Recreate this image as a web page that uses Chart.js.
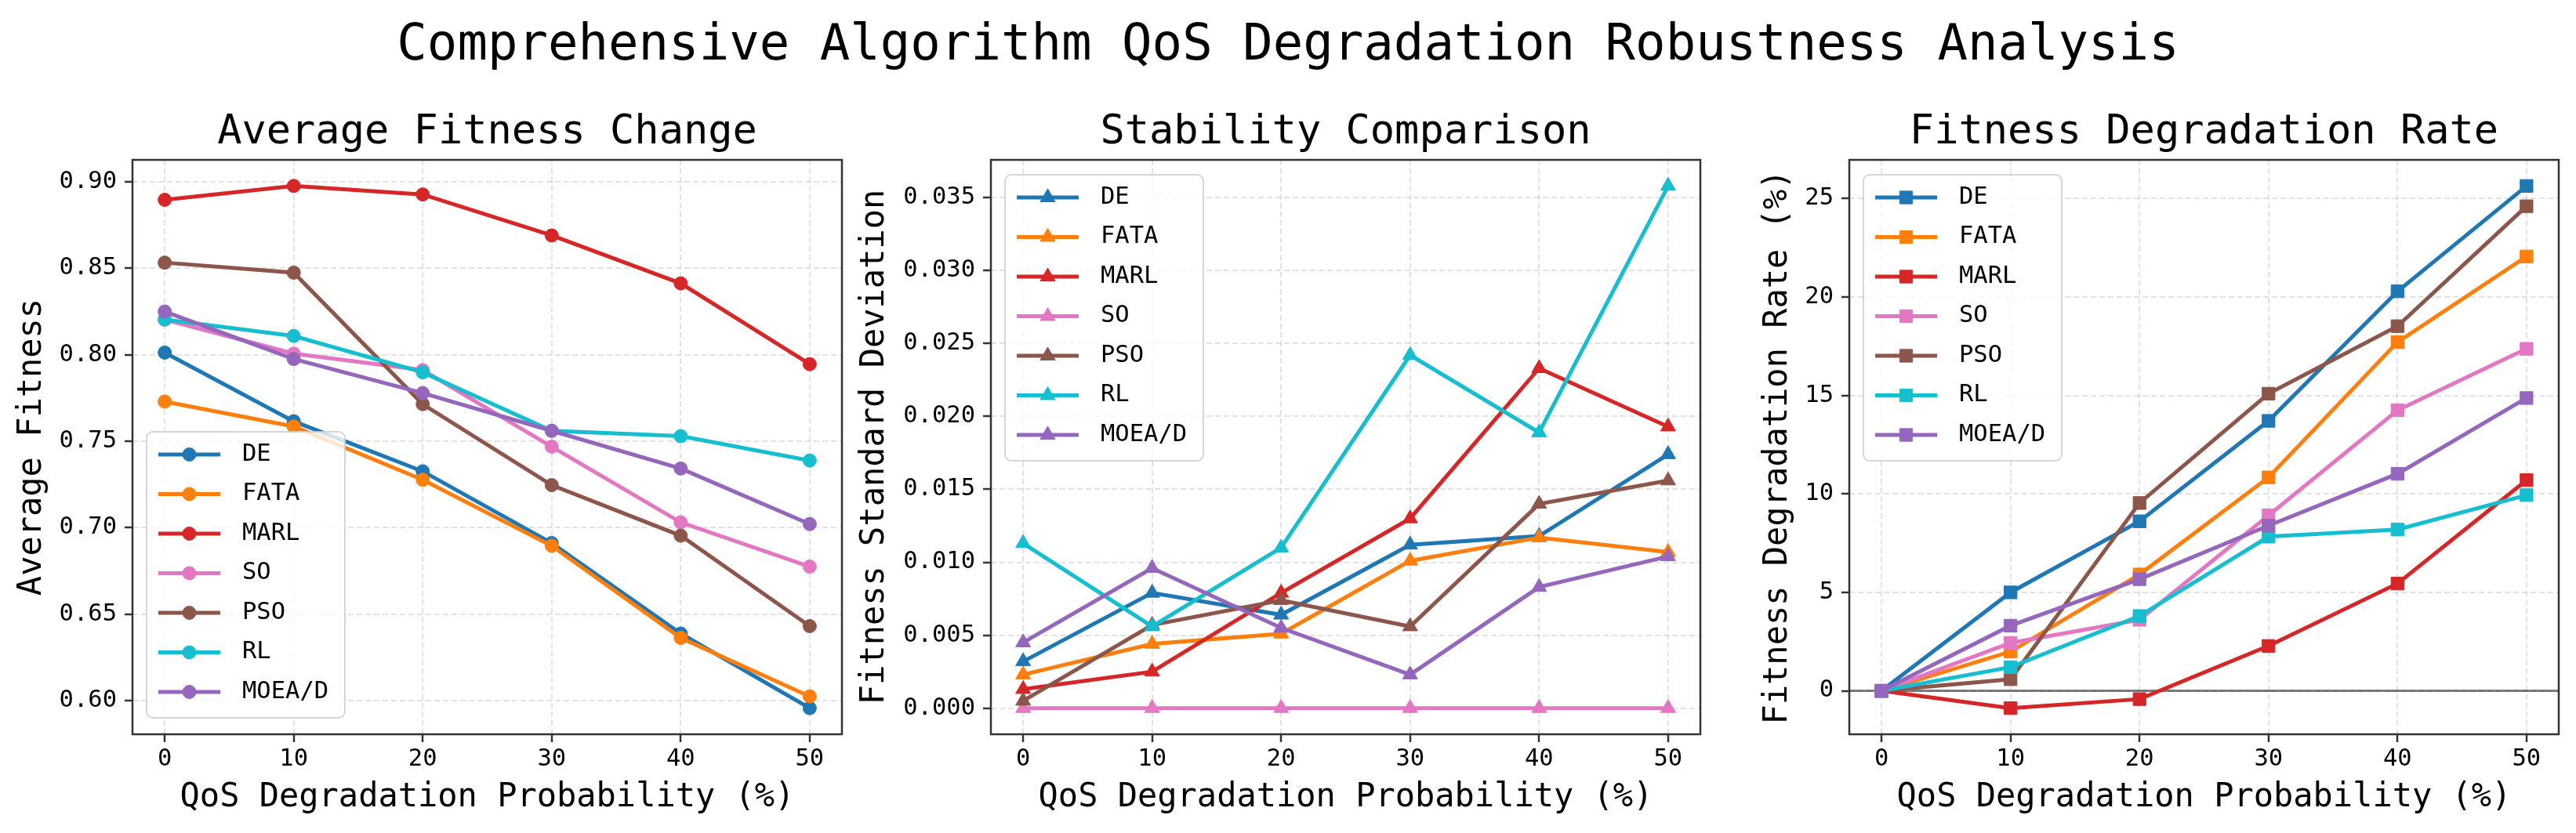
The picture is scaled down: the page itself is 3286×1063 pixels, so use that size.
<!DOCTYPE html>
<html>
<head>
<meta charset="utf-8">
<title>Comprehensive Algorithm QoS Degradation Robustness Analysis</title>
<script src="https://cdn.jsdelivr.net/npm/chart.js@4.4.1/dist/chart.umd.min.js"></script>
<style>
  html, body { margin: 0; padding: 0; background: #ffffff; width: 3286px; height: 1063px; overflow: hidden; }
  #wrap { position: relative; width: 3286px; height: 1063px; }
  canvas { position: absolute; left: 0; top: 0; }
  #suptitle {
    position: absolute; left: 0; top: 22px; width: 3286px; text-align: center;
    font-family: 'DejaVu Sans Mono', monospace; font-size: 64px; line-height: 64px;
    color: #000; white-space: pre;
  }
</style>
</head>
<body>
<div id="wrap">
  <div id="suptitle">Comprehensive Algorithm QoS Degradation Robustness Analysis</div>
  <canvas id="c1" width="3286" height="1063" style="width:3286px;height:1063px"></canvas>
  <canvas id="c2" width="3286" height="1063" style="width:3286px;height:1063px"></canvas>
  <canvas id="c3" width="3286" height="1063" style="width:3286px;height:1063px"></canvas>
</div>
<script>
// ---------------- DATA ----------------
const X_VALUES = [0, 10, 20, 30, 40, 50];
const X_TICK_LABELS = ['0', '10', '20', '30', '40', '50'];
const ALGORITHMS = ['DE', 'FATA', 'MARL', 'SO', 'PSO', 'RL', 'MOEA/D'];
const COLORS = ['#1f77b4', '#ff7f0e', '#d62728', '#e377c2', '#8c564b', '#17becf', '#9467bd'];

// Average fitness (rows follow ALGORITHMS)
const AVG_FITNESS = [
  [0.8012, 0.7615, 0.7326, 0.6911, 0.6388, 0.5957],
  [0.7729, 0.7585, 0.7277, 0.6895, 0.6363, 0.6025],
  [0.8895, 0.8975, 0.8926, 0.8689, 0.8412, 0.7945],
  [0.8203, 0.8006, 0.7911, 0.7468, 0.7031, 0.6775],
  [0.8532, 0.8474, 0.7714, 0.7246, 0.6954, 0.6431],
  [0.8203, 0.8108, 0.7898, 0.7560, 0.7529, 0.7388],
  [0.8249, 0.7975, 0.7778, 0.7560, 0.7342, 0.7021]
];
// Fitness standard deviation
const STD_DEV = [
  [0.0032, 0.0079, 0.0064, 0.0112, 0.0118, 0.0174],
  [0.0023, 0.0044, 0.0051, 0.0101, 0.0117, 0.0107],
  [0.0013, 0.0025, 0.0079, 0.0130, 0.0233, 0.0193],
  [0.0000, 0.0000, 0.0000, 0.0000, 0.0000, 0.0000],
  [0.0005, 0.0057, 0.0074, 0.0056, 0.0140, 0.0156],
  [0.0113, 0.0056, 0.0110, 0.0242, 0.0189, 0.0358],
  [0.0045, 0.0096, 0.0055, 0.0023, 0.0083, 0.0104]
];
// Fitness degradation rate (%)
const DEG_RATE = [
  [0, 5.00, 8.61, 13.71, 20.29, 25.64],
  [0, 1.99, 5.91, 10.84, 17.71, 22.06],
  [0, -0.88, -0.42, 2.28, 5.45, 10.70],
  [0, 2.43, 3.61, 8.91, 14.25, 17.37],
  [0, 0.59, 9.54, 15.09, 18.52, 24.61],
  [0, 1.20, 3.80, 7.83, 8.19, 9.94],
  [0, 3.31, 5.67, 8.39, 11.02, 14.87]
];

const Y1_TICKS = [0.60, 0.65, 0.70, 0.75, 0.80, 0.85, 0.90];
const Y1_TICK_LABELS = ['0.60', '0.65', '0.70', '0.75', '0.80', '0.85', '0.90'];
const Y2_TICKS = [0, 0.005, 0.010, 0.015, 0.020, 0.025, 0.030, 0.035];
const Y2_TICK_LABELS = ['0.000', '0.005', '0.010', '0.015', '0.020', '0.025', '0.030', '0.035'];
const Y3_TICKS = [0, 5, 10, 15, 20, 25];
const Y3_TICK_LABELS = ['0', '5', '10', '15', '20', '25'];
const ZERO_LINE_VALUE = 0;

const X_TITLE = 'QoS Degradation Probability (%)';
const TITLES = ['Average Fitness Change', 'Stability Comparison', 'Fitness Degradation Rate'];
const Y_TITLES = ['Average Fitness', 'Fitness Standard Deviation', 'Fitness Degradation Rate (%)'];

// ---------------- STYLE / LAYOUT ----------------
const FAMILY = "'DejaVu Sans Mono', monospace";
const W = 3286, H = 1063;
const PLOT_TOP = 204, PLOT_BOTTOM = 937;
const X_AXIS_H = H - PLOT_BOTTOM - 16;
const SPINE = '#333333';
const GRID = 'rgba(176,176,176,0.35)';
const TICK_FONT = { family: FAMILY, size: 30.5, lineHeight: 1.2 };
const LABEL_FONT = { family: FAMILY, size: 42, lineHeight: 1 };

Chart.defaults.color = '#000';
Chart.defaults.font.family = FAMILY;

const framePlugin = {
  id: 'frame',
  beforeDatasetsDraw(chart, args, opts) {
    if (opts.zeroLine === undefined) return;
    const a = chart.chartArea, ctx = chart.ctx;
    const y = chart.scales.y.getPixelForValue(opts.zeroLine);
    ctx.save();
    ctx.strokeStyle = 'rgba(0,0,0,0.5)';
    ctx.lineWidth = 3;
    ctx.beginPath(); ctx.moveTo(a.left, y); ctx.lineTo(a.right, y); ctx.stroke();
    ctx.restore();
  },
  afterDatasetsDraw(chart) {
    const a = chart.chartArea, ctx = chart.ctx;
    ctx.save();
    ctx.strokeStyle = SPINE;
    ctx.lineWidth = 2.5;
    ctx.strokeRect(a.left, a.top, a.right - a.left, a.bottom - a.top);
    ctx.restore();
  }
};

const mplLegend = {
  id: 'mplLegend',
  afterDraw(chart, args, opts) {
    const ctx = chart.ctx, a = chart.chartArea;
    const ds = chart.data.datasets;
    const boxW = 253, rowH = 50.5, topPad = 29, botPad = 33;
    const boxH = topPad + rowH * (ds.length - 1) + botPad;
    const bx = a.left + 18;
    const by = opts.corner === 'lower' ? a.bottom - 21 - boxH : a.top + 19;
    ctx.save();
    ctx.beginPath();
    if (ctx.roundRect) ctx.roundRect(bx, by, boxW, boxH, 8); else ctx.rect(bx, by, boxW, boxH);
    ctx.fillStyle = 'rgba(255,255,255,0.8)';
    ctx.fill();
    ctx.strokeStyle = 'rgba(204,204,204,0.8)';
    ctx.lineWidth = 2;
    ctx.stroke();
    ds.forEach((d, i) => {
      const cy = by + topPad + i * rowH;
      ctx.strokeStyle = d.borderColor;
      ctx.lineWidth = d.borderWidth;
      ctx.beginPath(); ctx.moveTo(bx + 15, cy); ctx.lineTo(bx + 94, cy); ctx.stroke();
      ctx.fillStyle = d.backgroundColor;
      ctx.strokeStyle = d.borderColor;
      ctx.lineWidth = 1;
      Chart.helpers.drawPoint(ctx, { pointStyle: d.pointStyle, radius: d.pointRadius, borderWidth: 1, rotation: 0 }, bx + 54.5, cy);
      ctx.fillStyle = '#000';
      ctx.font = '30.5px ' + FAMILY;
      ctx.textAlign = 'left';
      ctx.textBaseline = 'middle';
      ctx.fillText(d.label, bx + 122, cy);
    });
    ctx.restore();
  }
};

function buildChart(id, cfg) {
  const all = cfg.series.flat();
  const yMin = Math.min(...all), yMax = Math.max(...all);
  const yPad = (yMax - yMin) * 0.05;
  const xMin = Math.min(...X_VALUES), xMax = Math.max(...X_VALUES);
  const xPad = (xMax - xMin) * 0.05;

  const datasets = ALGORITHMS.map((name, i) => ({
    label: name,
    data: X_VALUES.map((x, j) => ({ x: x, y: cfg.series[i][j] })),
    borderColor: COLORS[i],
    backgroundColor: COLORS[i],
    borderWidth: 5,
    pointStyle: cfg.marker,
    pointRadius: cfg.radius,
    pointHoverRadius: cfg.radius,
    pointBorderWidth: 1,
    tension: 0,
    order: ALGORITHMS.length - 1 - i
  }));

  return new Chart(document.getElementById(id), {
    type: 'line',
    data: { datasets },
    plugins: [framePlugin, mplLegend],
    options: {
      responsive: false,
      animation: false,
      devicePixelRatio: 1,
      events: [],
      layout: {
        padding: { left: cfg.axisLeft, right: W - cfg.plotRight, top: 143, bottom: 16 }
      },
      plugins: {
        legend: { display: false },
        tooltip: { enabled: false },
        title: {
          display: true, text: cfg.title, fullSize: false, color: '#000',
          font: { family: FAMILY, size: 52, weight: 'normal', lineHeight: 1 },
          padding: { top: 0, bottom: 9 }
        },
        frame: { zeroLine: cfg.zeroLine },
        mplLegend: { corner: cfg.legendCorner }
      },
      scales: {
        x: {
          type: 'linear',
          min: xMin - xPad, max: xMax + xPad,
          afterBuildTicks: s => { s.ticks = X_VALUES.map(v => ({ value: v })); },
          afterFit: s => { s.height = X_AXIS_H; },
          ticks: {
            autoSkip: false, maxRotation: 0, color: '#000', font: TICK_FONT, padding: 4,
            callback: v => X_TICK_LABELS[X_VALUES.indexOf(v)]
          },
          grid: { color: GRID, lineWidth: 2, tickColor: SPINE, tickWidth: 2.5, tickLength: 10 },
          border: { display: false, dash: [7, 4] },
          title: { display: true, text: X_TITLE, color: '#000', font: LABEL_FONT, padding: { top: 0, bottom: 8 } }
        },
        y: {
          type: 'linear',
          min: yMin - yPad, max: yMax + yPad,
          afterBuildTicks: s => { s.ticks = cfg.yTicks.map(v => ({ value: v })); },
          afterFit: s => { s.width = cfg.plotLeft - cfg.axisLeft; },
          ticks: {
            autoSkip: false, color: '#000', font: TICK_FONT, padding: 10,
            callback: v => cfg.yLabels[cfg.yTicks.findIndex(t => Math.abs(t - v) < 1e-9)]
          },
          grid: { color: GRID, lineWidth: 2, tickColor: SPINE, tickWidth: 2.5, tickLength: 10 },
          border: { display: false, dash: [7, 4] },
          title: { display: true, text: cfg.yTitle, color: '#000', font: LABEL_FONT, padding: { top: 0, bottom: 0 } }
        }
      }
    }
  });
}

buildChart('c1', {
  title: TITLES[0], yTitle: Y_TITLES[0], series: AVG_FITNESS,
  yTicks: Y1_TICKS, yLabels: Y1_TICK_LABELS, marker: 'circle', radius: 8.5,
  legendCorner: 'lower', plotLeft: 169, plotRight: 1074, axisLeft: 20
});
buildChart('c2', {
  title: TITLES[1], yTitle: Y_TITLES[1], series: STD_DEV,
  yTicks: Y2_TICKS, yLabels: Y2_TICK_LABELS, marker: 'triangle', radius: 11,
  legendCorner: 'upper', plotLeft: 1264, plotRight: 2169, axisLeft: 1095
});
buildChart('c3', {
  title: TITLES[2], yTitle: Y_TITLES[2], series: DEG_RATE,
  yTicks: Y3_TICKS, yLabels: Y3_TICK_LABELS, marker: 'rect', radius: 11.5,
  legendCorner: 'upper', plotLeft: 2359, plotRight: 3264, axisLeft: 2247, zeroLine: ZERO_LINE_VALUE
});
</script>
</body>
</html>
